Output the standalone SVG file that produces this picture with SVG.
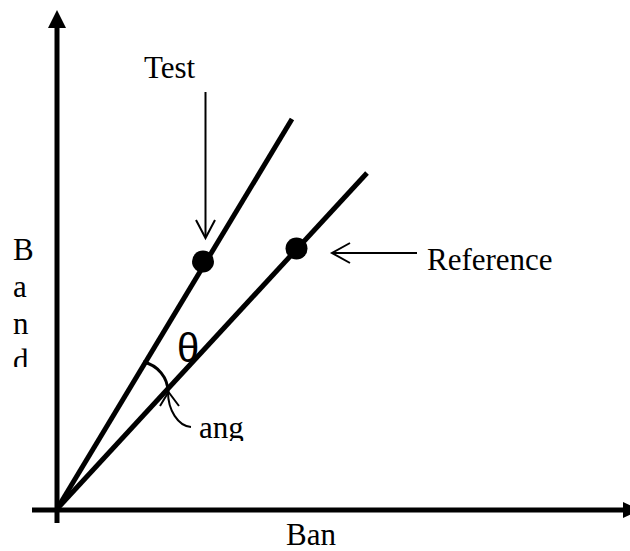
<svg xmlns="http://www.w3.org/2000/svg" width="630" height="551" viewBox="0 0 630 551">
<defs>
<style>
.lbl{font-family:"Liberation Serif","Times New Roman",serif;font-size:31px;fill:#000}
.sym{font-family:"Liberation Sans",Arial,sans-serif;font-size:40px;fill:#000}
.thick{stroke:#000;stroke-width:5;fill:none}
.thin{stroke:#000;stroke-width:2;fill:none}
</style>
<clipPath id="clipD"><rect x="0" y="330" width="60" height="37"/></clipPath>
<clipPath id="clipAng"><rect x="190" y="400" width="80" height="41"/></clipPath>
</defs>
<rect width="630" height="551" fill="#fff"/>
<g id="axes">
<line class="thick" x1="57" y1="523" x2="57" y2="26"/>
<polygon points="48,28 57,10 66,28" fill="#000"/>
<line class="thick" x1="32" y1="510" x2="625" y2="510"/>
<polygon points="623,502 640,510 623,518" fill="#000"/>
</g>
<g id="connectors">
<line class="thick" x1="57" y1="509" x2="292" y2="119"/>
<line class="thick" x1="57" y1="509" x2="367" y2="173"/>
<line class="thin" x1="205.5" y1="92" x2="205.5" y2="237"/>
<polyline class="thin" points="196,220 205.5,238 215,220"/>
<line class="thin" x1="333" y1="253" x2="417" y2="253"/>
<polyline class="thin" points="350,243 332,253 350,263"/>
<path d="M143,362 C158,365 168,378 168,392" stroke="#000" stroke-width="3" fill="none"/>
<path class="thin" d="M168,392 C168,410 178,426 191,427"/>
<polyline class="thin" points="160,406 168.5,392 179,406"/>
</g>
<g id="test-point"><circle cx="203" cy="261.5" r="11" fill="#000"/></g>
<g id="reference-point"><circle cx="296.5" cy="248.5" r="11" fill="#000"/></g>
<g id="labels">
<text class="lbl" x="144" y="78">Test</text>
<text class="lbl" x="427" y="270">Reference</text>
<text class="lbl" x="286" y="545">Ban</text>
<text class="lbl" x="13" y="260">B</text>
<text class="lbl" x="13" y="297">a</text>
<text class="lbl" x="13" y="334">n</text>
<text class="lbl" x="13" y="371" clip-path="url(#clipD)">d</text>
<text class="lbl" x="199" y="438" clip-path="url(#clipAng)">ang</text>
<text class="sym" x="177" y="362">θ</text>
</g>
</svg>
